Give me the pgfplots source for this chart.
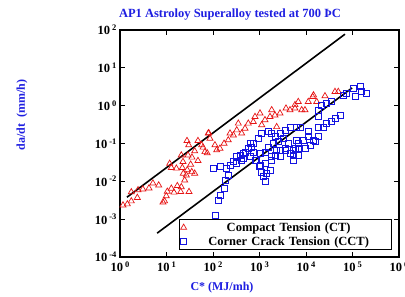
\documentclass[border=0pt]{standalone}
\usepackage{pgfplots}
\pgfplotsset{compat=1.18}
\usepackage{fontspec}
\setmainfont{Liberation Serif}
\definecolor{ttl}{RGB}{30,30,225}
\definecolor{ctred}{RGB}{230,20,20}
\definecolor{cctblue}{RGB}{20,20,225}
\newcommand{\tl}[1]{10\,\raisebox{0.75ex}{\fontsize{8.5}{9}\selectfont #1}}
\begin{document}
\begin{tikzpicture}
\begin{axis}[
  at={(0pt,0pt)}, anchor=south west,
  scale only axis, width=279pt, height=227pt,
  xmode=log, ymode=log, log basis x=10, log basis y=10,
  xmin=1, xmax=1e6, ymin=1e-4, ymax=1e2,
  xtick={1,10,100,1000,10000,100000,1000000},
  xticklabels={\tl{0},\tl{1},\tl{2},\tl{3},\tl{4},\tl{5},\tl{6}},
  ytick={1e-4,1e-3,1e-2,1e-1,1,10,100},
  yticklabels={\tl{-4},\tl{-3},\tl{-2},\tl{-1},\tl{0},\tl{1},\tl{2}},
  tick label style={font=\bfseries\fontsize{12.5}{14}\selectfont},
  xticklabel style={yshift=-1pt},
  axis line style={line width=1.5pt},
  every tick/.style={black, line width=0.9pt},
  major tick length=5pt, minor tick length=3pt,
  tick align=inside,
  legend style={at={(0.975,0.03)}, anchor=south east, draw=black, line width=0.7pt,
    font=\bfseries\fontsize{12.5}{14}\selectfont, inner sep=1pt, row sep=0pt,
    nodes={text width=200pt, align=center}},
]
\addplot[only marks, mark=triangle, mark size=3.5pt, color=ctred, mark options={line width=0.7pt}] coordinates {
(1.16,2.34e-3)(1.44,2.5e-3)(1.75,3.0e-3)(1.75,5.2e-3)(2.36,3.7e-3)(2.44,5.9e-3)
(3.1,6.2e-3)(4.2,6.6e-3)(5.1,8.9e-3)(6.8,7.9e-3)(9.1,3.0e-3)(9.9,4.1e-3)
(10.4,5.4e-3)(12.7,6.5e-3)(14.5,5.1e-3)(20.2,5.3e-3)(30.5,5.3e-3)(17.1,7.6e-3)
(20.8,7.1e-3)(24.6,1.07e-2)(26.7,1.45e-2)(40.4,1.62e-2)(28,2.0e-2)(11.7,2.95e-2)
(12.7,2.29e-2)(16.3,2.2e-2)(21.9,2.29e-2)(22.6,3.3e-2)(33.1,2.8e-2)(20.8,4.9e-2)
(29,4.9e-2)(35.3,4.3e-2)(47.5,3.5e-2)(40.4,6.3e-2)(27.6,0.118)(30,9.1e-2)
(47.5,0.118)(61,7.9e-2)(75,5.6e-2)(81,0.19)(8.4,2.8e-3)(23,1.62e-2)(34.9,1.78e-2)
(57,9.1e-2)(67,6.0e-2)(79,0.186)(86,0.136)(110,9.1e-2)(120,6.7e-2)(141,7.4e-2)
(173,0.1)(213,0.123)(232,0.186)(274,0.166)(324,0.226)(350,0.34)(414,0.186)
(488,0.25)(574,0.34)(736,0.375)(800,0.51)(1025,0.63)(1115,0.31)(1312,0.42)
(1683,0.51)(1830,0.77)(2150,0.56)(2340,0.275)(2760,0.63)(3715,0.85)(4530,0.77)
(5800,1.05)(6830,1.27)(5800,0.85)(8090,0.77)(9500,0.77)(1.12e4,1.27)(1.39e4,1.72)
(1.70e4,1.27)(2.56e4,1.80)(4.2e4,2.34)(4.95e4,2.34)(1.45e4,1.9)
};
\addlegendentry{Compact Tension (CT)}
\addplot[only marks, mark=square, mark size=3pt, color=cctblue, mark options={line width=0.7pt}] coordinates {
(110,1.28e-3)(130,3.2e-3)(141,4.3e-3)(173,6.6e-3)(181,1.07e-2)(213,1.45e-2)
(101,2.2e-2)(141,2.42e-2)(197,2.2e-2)(232,2.7e-2)(324,2.95e-2)(380,4.9e-2)
(449,4.1e-2)(488,6.0e-2)(625,4.5e-2)(680,8.1e-2)(736,6.0e-2)(871,3.6e-2)
(990,2.42e-2)(1115,1.78e-2)(1208,1.32e-2)(1312,9.8e-3)(1312,2.95e-2)(1683,2.0e-2)
(1830,3.6e-2)(2150,4.9e-2)(2760,6.7e-2)(3530,7.4e-2)(4530,5.5e-2)(5800,7.4e-2)
(625,0.1)(274,3.3e-2)(324,4.5e-2)(414,3.6e-2)(449,5.5e-2)(574,7.4e-2)(736,0.1)
(942,0.136)(1115,0.186)(1545,0.204)(1830,0.186)(2150,0.15)(2760,0.186)(3530,0.226)
(4530,0.275)(6310,0.275)(800,3.6e-2)(1025,2.7e-2)(1430,1.62e-2)(1830,4.5e-2)
(2340,6.7e-2)(2760,4.5e-2)(3530,6.7e-2)(5330,3.6e-2)(6830,4.9e-2)(1545,8.1e-2)
(1980,0.1)(2540,0.111)(3250,0.136)(4160,0.1)(1025,5.5e-2)(1312,6.0e-2)
(7430,0.275)(1.12e4,0.204)(1.84e4,0.275)(2.36e4,0.275)(2.79e4,0.34)(3.57e4,0.375)
(4.2e4,0.46)(5.4e4,0.56)(1.84e4,0.51)(1.84e4,0.77)(2.18e4,1.04)(2.79e4,1.15)
(3.57e4,1.27)(6.34e4,1.9)(7.5e4,2.11)(1.04e5,2.88)(1.13e5,1.72)(1.45e5,3.16)
(1.58e5,2.34)(2.02e5,2.11)(6310,0.123)(8750,0.123)(1.12e4,0.15)(1.44e4,0.123)
(1.84e4,0.15)(5330,6.7e-2)(6830,7.4e-2)(9500,7.4e-2)(1.22e4,9.1e-2)(1.56e4,0.111)
(5330,4.9e-2)(6830,0.1)
};
\addlegendentry{Corner Crack Tension (CCT)}
\addplot[black, line width=1.6pt, forget plot] coordinates {(1.41,3.8e-3)(6.9e4,77.6)};
\addplot[black, line width=1.6pt, forget plot] coordinates {(6.3,4.27e-4)(9.8e4,2.95)};
\end{axis}
\node[ttl, font=\bfseries\fontsize{12.5}{14}\selectfont] at (110pt,242pt) {AP1 Astroloy Superalloy tested at 700 ÞC};
\node[ttl, font=\bfseries\fontsize{12}{14}\selectfont, rotate=90] at (-98pt,142pt) {da/dt\ \ (mm/h)};
\node[ttl, font=\bfseries\fontsize{12}{14}\selectfont] at (102pt,-31pt) {C* (MJ/mh)};
\pgfresetboundingbox
\path[use as bounding box] (-120pt,-40pt) rectangle (285pt,257pt);
\end{tikzpicture}
\end{document}
